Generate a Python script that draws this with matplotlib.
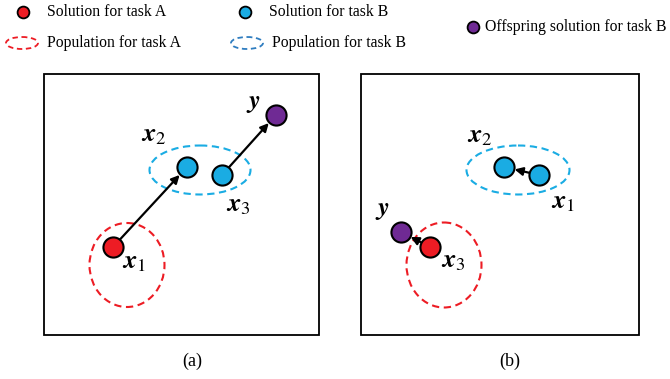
import matplotlib
matplotlib.use("Agg")
import matplotlib.pyplot as plt
from matplotlib.patches import Ellipse, Rectangle

plt.rcParams['font.family'] = ['Liberation Serif', 'DejaVu Serif']
plt.rcParams['mathtext.fontset'] = 'stix'

RED = "#ED1C24"
BLUE = "#1AACE3"
PURPLE = "#6F2A94"
LEGEND_BLUE = "#2F7DC0"

# everything is laid out in pixel coordinates of the 670x379 picture
panel_boxes = [(44, 74, 319, 335), (361, 74, 639, 335)]
panel_captions = ["(a)", "(b)"]
caption_x = [192, 510]

# solutions per panel: (x, y, kind)
points_a = {"x1": (113, 247, "A"), "x2": (187, 167, "B"), "x3": (222, 175, "B"), "y": (276, 115, "off")}
points_b = {"x2": (504, 167, "B"), "x1": (539, 175, "B"), "y": (401, 232, "off"), "x3": (430, 247, "A")}

# populations: centre x, centre y, width, height, task
pops_a = [(127, 265, 75, 84, "A"), (200, 170, 101, 49, "B")]
pops_b = [(444, 265, 75, 85, "A"), (518, 170, 103, 49, "B")]

# arrows (from, to)
arrows_a = [("x1", "x2"), ("x3", "y")]
arrows_b = [("x1", "x2"), ("x3", "y")]

# label positions
labels_a = {"x2": (154, 136), "x3": (238, 206), "x1": (134, 263), "y": (253, 104)}
labels_b = {"x2": (480, 137), "x1": (563, 203), "y": (382, 211), "x3": (453, 262)}

label_tex = {"x1": r"$\mathbfit{x}_1$", "x2": r"$\mathbfit{x}_2$",
             "x3": r"$\mathbfit{x}_3$", "y": r"$\mathbfit{y}$"}
colors = {"A": RED, "B": BLUE, "off": PURPLE}

fig = plt.figure(figsize=(6.7, 3.79), dpi=100)
ax = fig.add_axes([0, 0, 1, 1])
ax.set_xlim(0, 670)
ax.set_ylim(379, 0)
ax.axis('off')

for (x0, y0, x1, y1), cap, cx in zip(panel_boxes, panel_captions, caption_x):
    ax.add_patch(Rectangle((x0, y0), x1 - x0, y1 - y0, fill=False, ec='black', lw=1.3))
    ax.text(cx, 361, cap, ha='center', va='center', fontsize=13)

for pts, pops, arrs, labs in [(points_a, pops_a, arrows_a, labels_a),
                               (points_b, pops_b, arrows_b, labels_b)]:
    for cx, cy, w, h, task in pops:
        ax.add_patch(Ellipse((cx, cy), w, h, fill=False, ec=colors[task],
                             lw=1.5, ls=(0, (3.5, 2.2))))
    for a, b in arrs:
        ax.annotate("", xy=pts[b][:2], xytext=pts[a][:2],
                    arrowprops=dict(arrowstyle='-|>', color='black', lw=1.6,
                                    shrinkA=0, shrinkB=7.8, mutation_scale=12),
                    zorder=2)
    for name, (px, py, kind) in pts.items():
        ax.plot(px, py, 'o', ms=14.5, mfc=colors[kind], mec='black', mew=1.5, zorder=3)
    for name, (lx, ly) in labs.items():
        ax.text(lx, ly, label_tex[name], ha='center', va='center', fontsize=19, zorder=4)

# legend: marker x, y, colour, text, text offset
legend_dots = [(23, 12, RED, "Solution for task A", 24),
               (245, 12, BLUE, "Solution for task B", 24),
               (473, 27, PURPLE, "Offspring solution for task B", 12)]
legend_rings = [(22, 43, RED, "Population for task A"),
                (247, 43, LEGEND_BLUE, "Population for task B")]

for x, y, c, txt, off in legend_dots:
    ax.plot(x, y, 'o', ms=8.5, mfc=c, mec='black', mew=1.3)
    ax.text(x + off, y, txt, ha='left', va='center', fontsize=11.3)
for x, y, c, txt in legend_rings:
    ax.add_patch(Ellipse((x, y), 32, 12, fill=False, ec=c, lw=1.3, ls=(0, (3, 2))))
    ax.text(x + 25, y, txt, ha='left', va='center', fontsize=11.3)

fig.savefig("out.png", dpi=100)
